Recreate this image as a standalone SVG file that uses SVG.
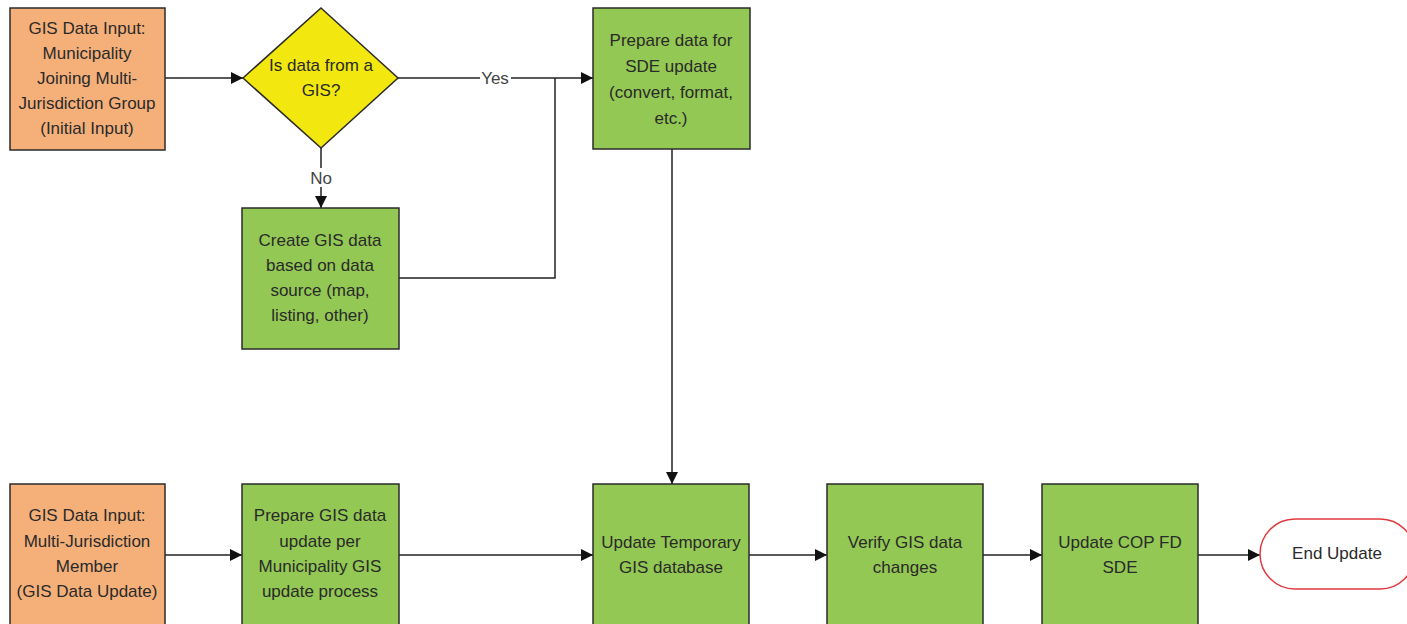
<svg xmlns="http://www.w3.org/2000/svg" width="1407" height="624" viewBox="0 0 1407 624">
  <style>
    .box { stroke: #2b2b2b; stroke-width: 1.5; }
    .input { fill: #f5b07a; }
    .step { fill: #92c853; }
    .decision { fill: #f2e70f; }
    .end { fill: #ffffff; stroke: #e0393e; stroke-width: 1.5; }
    .conn { fill: none; stroke: #222; stroke-width: 1.5; }
    text { font-family: "Liberation Sans", Arial, sans-serif; font-size: 17px; fill: #2a2a2a; text-anchor: middle; }
    .lbl { font-size: 17px; fill: #444; }
  </style>
  <defs>
    <marker id="arrow" viewBox="0 0 10 10" refX="10" refY="5" markerWidth="12" markerHeight="12" markerUnits="userSpaceOnUse" orient="auto">
      <path d="M0,0 L10,5 L0,10 z" fill="#111"/>
    </marker>
  </defs>

  <g id="connectors">
    <path class="conn" d="M165,78 H243" marker-end="url(#arrow)"/>
    <path class="conn" d="M398,78 H593" marker-end="url(#arrow)"/>
    <path class="conn" d="M321,148 V208" marker-end="url(#arrow)"/>
    <path class="conn" d="M399,278 H555 V78"/>
    <path class="conn" d="M672,149 V484" marker-end="url(#arrow)"/>
    <path class="conn" d="M165,555 H242" marker-end="url(#arrow)"/>
    <path class="conn" d="M399,555 H593" marker-end="url(#arrow)"/>
    <path class="conn" d="M749,555 H827" marker-end="url(#arrow)"/>
    <path class="conn" d="M983,555 H1042" marker-end="url(#arrow)"/>
    <path class="conn" d="M1198,555 H1260" marker-end="url(#arrow)"/>
    <rect x="480" y="68" width="31" height="19" fill="#fff"/>
    <text class="lbl" x="495" y="84">Yes</text>
    <rect x="308" y="168" width="26" height="19" fill="#fff"/>
    <text class="lbl" x="321" y="184">No</text>
  </g>

  <g id="input-initial">
    <rect class="box input" x="10" y="8" width="155" height="142"/>
    <text x="87" y="34">GIS Data Input:</text>
    <text x="87" y="59">Municipality</text>
    <text x="87" y="84">Joining Multi-</text>
    <text x="87" y="109">Jurisdiction Group</text>
    <text x="87" y="134">(Initial Input)</text>
  </g>

  <g id="decision-gis">
    <polygon class="box decision" points="321,8 398,78 321,148 243,78"/>
    <text x="321" y="71">Is data from a</text>
    <text x="321" y="96">GIS?</text>
  </g>

  <g id="create-gis-data">
    <rect class="box step" x="242" y="208" width="157" height="141"/>
    <text x="320" y="246">Create GIS data</text>
    <text x="320" y="271">based on data</text>
    <text x="320" y="296">source (map,</text>
    <text x="320" y="321">listing, other)</text>
  </g>

  <g id="prepare-sde">
    <rect class="box step" x="593" y="8" width="157" height="141"/>
    <text x="671" y="46">Prepare data for</text>
    <text x="671" y="72">SDE update</text>
    <text x="671" y="98">(convert, format,</text>
    <text x="671" y="124">etc.)</text>
  </g>

  <g id="input-member">
    <rect class="box input" x="10" y="484" width="155" height="150"/>
    <text x="87" y="521">GIS Data Input:</text>
    <text x="87" y="547">Multi-Jurisdiction</text>
    <text x="87" y="572">Member</text>
    <text x="87" y="597">(GIS Data Update)</text>
  </g>

  <g id="prepare-gis-update">
    <rect class="box step" x="242" y="484" width="157" height="150"/>
    <text x="320" y="521">Prepare GIS data</text>
    <text x="320" y="547">update per</text>
    <text x="320" y="572">Municipality GIS</text>
    <text x="320" y="597">update process</text>
  </g>

  <g id="update-temporary">
    <rect class="box step" x="593" y="484" width="156" height="150"/>
    <text x="671" y="548">Update Temporary</text>
    <text x="671" y="573">GIS database</text>
  </g>

  <g id="verify-changes">
    <rect class="box step" x="827" y="484" width="156" height="150"/>
    <text x="905" y="548">Verify GIS data</text>
    <text x="905" y="573">changes</text>
  </g>

  <g id="update-cop">
    <rect class="box step" x="1042" y="484" width="156" height="150"/>
    <text x="1120" y="548">Update COP FD</text>
    <text x="1120" y="573">SDE</text>
  </g>

  <g id="end-update">
    <rect class="end" x="1260" y="519" width="155" height="70" rx="35" ry="35"/>
    <text x="1337" y="559">End Update</text>
  </g>
</svg>
